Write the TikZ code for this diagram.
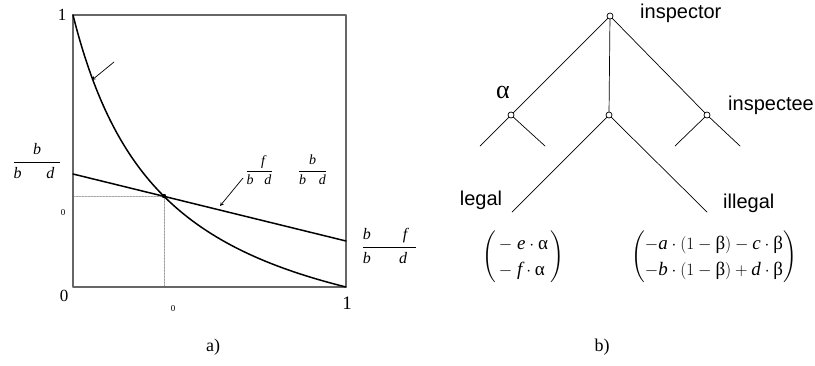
\documentclass[tikz,border=0pt]{standalone}
\usepackage{amsmath}
\usepackage{fontspec}
\setmainfont{Liberation Serif}
\newfontfamily\arialfont{Liberation Sans}
\usetikzlibrary{arrows}
\newcommand{\vi}[1]{\textit{#1}}
\newcommand{\barfrac}[2]{\genfrac{}{}{0.8pt}{0}{#1}{#2}}
\tikzset{
  frame/.style={draw=gray!80!black,line width=1.3pt},
  curve/.style={line width=1.5pt},
  guide/.style={gray,densely dotted,line width=0.5pt},
  pointer/.style={->,line width=0.7pt},
  dec/.style={circle,draw,fill=white,inner sep=0pt,minimum size=6pt,line width=0.7pt},
  branch/.style={line width=0.7pt},
  lbl/.style={font=\arialfont\fontsize{20}{24}\selectfont,inner sep=0pt},
  num/.style={font=\fontsize{17}{20}\selectfont,inner sep=0pt},
  tiny/.style={font=\fontsize{9}{10}\selectfont,inner sep=0pt},
  frc/.style={font=\fontsize{16}{19}\selectfont,inner sep=0pt},
  vec/.style={font=\fontsize{19}{22}\selectfont,inner sep=0pt}
}
\begin{document}
\begin{tikzpicture}[x=1pt,y=-1pt,line join=round,line cap=round,>=stealth]
\useasboundingbox (0,0) rectangle (815,365);
% a) the two curves
\path
(73,287) coordinate (O)
(346,287) coordinate (E)
(346,15) coordinate (F)
(73,15) coordinate (T)
(164,196) coordinate (P)
(73,196) coordinate (Py)
(164,287) coordinate (Px)
(73,174) coordinate (A)
(346,241) coordinate (B)
;
\draw[guide] (Py)--(P)--(Px);
\draw[frame] (T)--(O)--(E)--(F)--cycle;
\draw[curve] plot[domain=0:1,samples=90,smooth] ({73+273*\x},{287-272*(1-\x)/(1+3*\x)});
\draw[curve] (A)--(B);
\fill (P) circle(2.2);
\path (114,62) coordinate (s1) (92,80) coordinate (e1)
      (243,178) coordinate (s2) (220,206) coordinate (e2);
\draw[pointer] (s1)--(e1);
\draw[pointer] (s2)--(e2);
\node[num] (one) at (62,15) {1};
\node[num] (zero) at (64,296) {0};
\node[num,font=\fontsize{19}{22}\selectfont] (oneb) at (347,303) {1};
\node[tiny] (z1) at (63,213) {0};
\node[tiny] (z2) at (173,309) {0};
\node[frc] (fl) at (37,161) {$\displaystyle\barfrac{\vi{b}}{\vi{b}\hspace{25pt}\vi{d}\hspace{6pt}}$};
\node[frc] (fr) at (389.5,246) {$\displaystyle\barfrac{\vi{b}\hspace{32pt}\vi{f}\hspace{9pt}}{\vi{b}\hspace{28.5pt}\vi{d}\hspace{9pt}}$};
\node[frc,font=\fontsize{14}{17}\selectfont] (fm1) at (259,170) {$\displaystyle\barfrac{\hspace{14pt}\vi{f}\hspace{6pt}}{\vi{b}\hspace{11pt}\vi{d}}$};
\node[frc,font=\fontsize{14}{17}\selectfont] (fm2) at (312.5,170) {$\displaystyle\barfrac{\vi{b}}{\vi{b}\hspace{13pt}\vi{d}}$};
\node[num,font=\fontsize{18}{22}\selectfont] (capa) at (213,347) {a)};
% b) the game tree
\node[dec] (I) at (610,16) {};
\node[dec] (L) at (511,115) {};
\node[dec] (M) at (609,115) {};
\node[dec] (R) at (707,115) {};
\path
(480,146) coordinate (L1)
(545,146) coordinate (L2)
(675,146) coordinate (R1)
(740,146) coordinate (R2)
(512,212) coordinate (M1)
(707,212) coordinate (M2)
;
\draw[gray!60,line width=0.6pt] (I) ++(225:47) arc[start angle=225,end angle=315,radius=47];
\draw[branch] (I)--(L) (I)--(M) (I)--(R);
\draw[branch] (L)--(L1) (L)--(L2) (R)--(R1) (R)--(R2) (M)--(M1) (M)--(M2);
\node[lbl,anchor=west] (insp) at (640,13) {inspector};
\node[lbl,anchor=west] (inspe) at (728,105) {inspectee};
\node[lbl] (leg) at (481,200) {legal};
\node[lbl,anchor=west] (ill) at (723,203) {illegal};
\node[font=\fontsize{26}{30}\selectfont,inner sep=0pt] (al) at (503,92) {α};
\node[vec] (vl) at (523.5,257) {\renewcommand{\arraystretch}{1.2}$\left(\,\begin{array}{@{}l@{}} -\;\vi{e}\cdot\textup{α}\\ -\;\vi{f}\cdot\textup{α}\end{array}\,\right)$};
\node[vec] (vr) at (714,257) {\renewcommand{\arraystretch}{1.2}$\left(\begin{array}{@{}l@{}} -\vi{a}\cdot(1-\textup{β})-\vi{c}\cdot\textup{β}\\ -\vi{b}\cdot(1-\textup{β})+\vi{d}\cdot\textup{β}\end{array}\right)$};
\node[num,font=\fontsize{18}{22}\selectfont] (capb) at (602,347) {b)};
\end{tikzpicture}
\end{document}
